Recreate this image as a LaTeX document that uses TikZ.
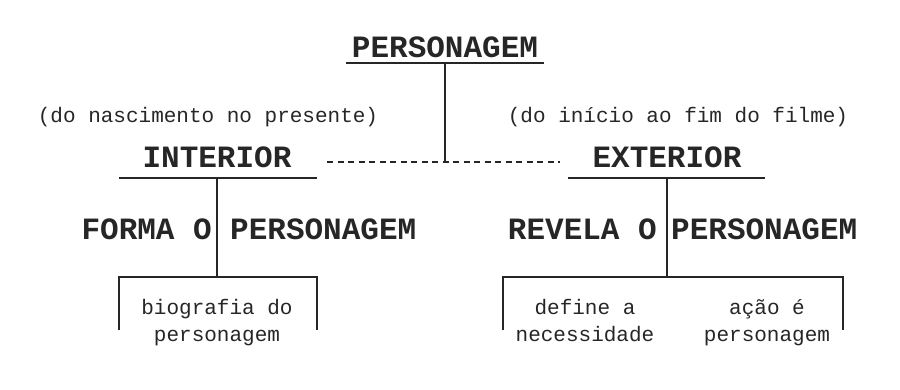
\documentclass[tikz,border=0pt]{standalone}
\usepackage{fontspec}
\setmainfont{Liberation Mono}
\tikzset{
  head/.style={font=\bfseries\fontsize{31}{31}\selectfont,inner sep=0pt,anchor=base},
  note/.style={font=\fontsize{21}{26}\selectfont,inner sep=0pt,anchor=base,align=center},
  rule/.style={line width=2.2pt,line cap=butt}
}
\begin{document}
\begin{tikzpicture}[x=1pt,y=-1pt,black!85]
  \useasboundingbox (0,0) rectangle (900,390);
  \node[head] (pers) at (445,58) {PERSONAGEM};
  \node[note] (nasc) at (208,123) {(do nascimento no presente)};
  \node[note] (filme) at (678,123) {(do início ao fim do filme)};
  \node[head] (int) at (217,168) {INTERIOR};
  \node[head] (ext) at (667,168) {EXTERIOR};
  \node[head,anchor=base east] (forma) at (212,240) {FORMA O};
  \node[head,anchor=base west] (formap) at (230,240) {PERSONAGEM};
  \node[head,anchor=base east] (revela) at (657,240) {REVELA O};
  \node[head,anchor=base west] (revelap) at (671,240) {PERSONAGEM};
  \node[note] (bio) at (217,341) {biografia do\\personagem};
  \node[note] (nec) at (585,341) {define a\\necessidade};
  \node[note] (acao) at (767,341) {ação é\\personagem};
  \coordinate (persl) at (346,63);
  \coordinate (persr) at (544,63);
  \coordinate (persu) at (445,63);
  \coordinate (j) at (445,162);
  \coordinate (dashl) at (327,162);
  \coordinate (dashr) at (560,162);
  \coordinate (intl) at (119,178);
  \coordinate (intr) at (317,178);
  \coordinate (intu) at (217,178);
  \coordinate (intb) at (217,277);
  \coordinate (biol) at (119,330);
  \coordinate (bior) at (317,330);
  \coordinate (extl) at (568,178);
  \coordinate (extr) at (765,178);
  \coordinate (extu) at (667,178);
  \coordinate (extb) at (667,277);
  \coordinate (necl) at (503,330);
  \coordinate (acaor) at (843,330);
  \draw[rule] (persl) -- (persr);
  \draw[rule] (persu) -- (j);
  \draw[line width=2pt,dash pattern=on 6pt off 4.5pt] (dashl) -- (dashr);
  \draw[rule] (intl) -- (intr);
  \draw[rule] (intu) -- (intb);
  \draw[rule] (biol) |- (intb) -| (bior);
  \draw[rule] (extl) -- (extr);
  \draw[rule] (extu) -- (extb);
  \draw[rule] (necl) |- (extb) -| (acaor);
\end{tikzpicture}
\end{document}
